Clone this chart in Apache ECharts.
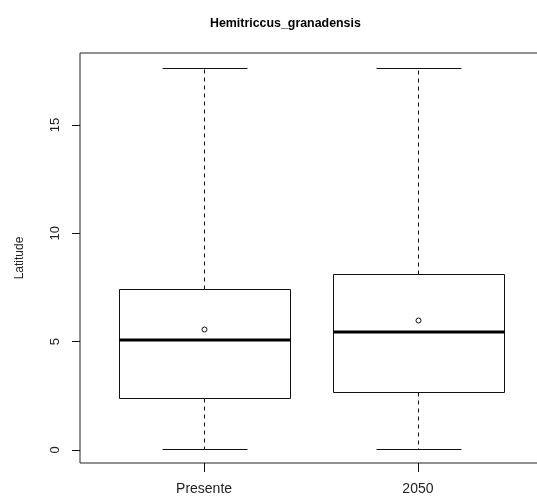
<html>
<head>
<meta charset="UTF-8">
<title>Hemitriccus_granadensis</title>
<style type="text/css">
  html, body { margin: 0; padding: 0; background: #fff; }
  #main { width: 537px; height: 504px; }
</style>
</head>
<body>
<div id="main"></div>
<script src="https://cdn.jsdelivr.net/npm/echarts@6/dist/echarts.min.js"></script>
<script type="text/javascript">
// values
var categories = ['Presente', '2050'];
var lowerWhisker = [0.03, 0.03];
var q1 = [2.39, 2.66];
var median = [5.06, 5.43];
var q3 = [7.42, 8.12];
var upperWhisker = [17.62, 17.62];
var means = [5.60, 5.99];
var yTicks = [0, 5, 10, 15];
var xTicks = [1, 2];

var boxData = categories.map(function (c, i) {
  return [i + 1, lowerWhisker[i], q1[i], median[i], q3[i], upperWhisker[i], means[i]];
});

var FONT = '"Liberation Sans", Arial, sans-serif';
var INK = '#111';

function px(v) { return Math.round(v) + 0.5; }

function renderBox(params, api) {
  var x = api.value(0);
  var lo = api.coord([x, api.value(1)]);
  var b1 = api.coord([x, api.value(2)]);
  var md = api.coord([x, api.value(3)]);
  var b3 = api.coord([x, api.value(4)]);
  var hi = api.coord([x, api.value(5)]);
  var mn = api.coord([x, api.value(6)]);
  var half = api.size([0.4, 0])[0];
  var cap = api.size([0.2, 0])[0];
  var cx = px(lo[0]);
  var thin = { stroke: INK, lineWidth: 1, fill: null };
  var dash = { stroke: INK, lineWidth: 1, lineDash: [4, 4] };
  return {
    type: 'group',
    children: [
      { type: 'line', shape: { x1: cx, y1: px(b3[1]), x2: cx, y2: px(hi[1]) }, style: dash },
      { type: 'line', shape: { x1: cx, y1: px(b1[1]), x2: cx, y2: px(lo[1]) }, style: dash },
      { type: 'line', shape: { x1: px(cx - cap), y1: px(hi[1]), x2: px(cx + cap), y2: px(hi[1]) }, style: thin },
      { type: 'line', shape: { x1: px(cx - cap), y1: px(lo[1]), x2: px(cx + cap), y2: px(lo[1]) }, style: thin },
      { type: 'rect', shape: { x: px(cx - half), y: px(b3[1]), width: Math.round(2 * half), height: Math.round(b1[1] - b3[1]) }, style: { stroke: INK, lineWidth: 1, fill: '#fff' } },
      { type: 'line', shape: { x1: px(cx - half), y1: Math.round(md[1]), x2: px(cx + half), y2: Math.round(md[1]) }, style: { stroke: '#000', lineWidth: 3 } },
      { type: 'circle', shape: { cx: cx, cy: px(mn[1]), r: 2.5 }, style: { stroke: INK, lineWidth: 1, fill: null } }
    ]
  };
}

var option = {
  backgroundColor: '#fff',
  animation: false,
  title: {
    text: 'Hemitriccus_granadensis',
    left: 205,
    top: 13,
    textStyle: { fontFamily: FONT, fontSize: 12.4, fontWeight: 'bold', color: '#000' }
  },
  grid: {
    left: 80, right: -5, top: 53, bottom: 41,
    show: true, borderColor: '#222', borderWidth: 1,
    outerBoundsMode: 'none'
  },
  xAxis: {
    type: 'value',
    min: 0.42, max: 2.58,
    splitLine: { show: false },
    axisLine: { show: false, onZero: false },
    axisTick: { show: true, length: 9, customValues: xTicks, lineStyle: { color: INK } },
    axisLabel: {
      customValues: xTicks, margin: 19,
      fontFamily: FONT, fontSize: 14, color: '#222',
      formatter: function (v) { return categories[Math.round(v) - 1] || ''; }
    }
  },
  yAxis: {
    type: 'value',
    min: -0.6, max: 18.32,
    name: 'Latitude',
    nameLocation: 'middle',
    nameRotate: 90,
    nameGap: 54,
    nameTextStyle: { fontFamily: FONT, fontSize: 12, color: '#222' },
    splitLine: { show: false },
    axisLine: { show: false, onZero: false },
    axisTick: { show: true, length: 8, customValues: yTicks, lineStyle: { color: INK } },
    axisLabel: {
      customValues: yTicks, rotate: 90, margin: 18,
      fontFamily: FONT, fontSize: 13, color: '#222'
    }
  },
  series: [{
    type: 'custom',
    renderItem: renderBox,
    encode: { x: 0, y: [1, 2, 3, 4, 5, 6] },
    data: boxData,
    clip: false
  }]
};

var myChart = echarts.init(document.getElementById('main'));
myChart.setOption(option);
</script>
</body>
</html>
